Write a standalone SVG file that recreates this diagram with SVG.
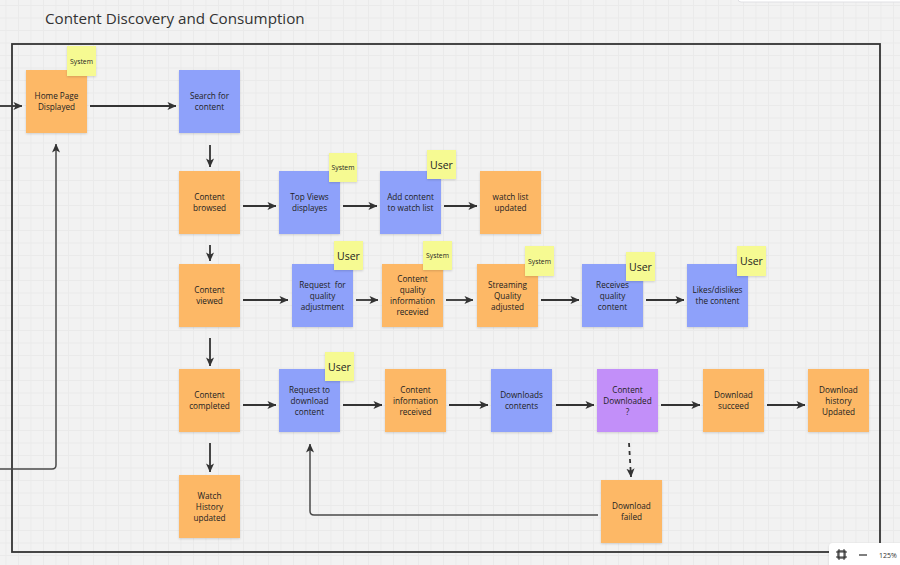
<svg xmlns="http://www.w3.org/2000/svg" width="900" height="565" viewBox="0 0 900 565">
<defs>
<pattern id="grid" width="12.5" height="12.5" patternUnits="userSpaceOnUse" x="5.5" y="5">
<path d="M0 0.5 H12.5 M0.5 0 V12.5" stroke="#eaeaea" stroke-width="1" fill="none"/>
</pattern>
<marker id="arr" viewBox="0 0 10 10" markerWidth="9" markerHeight="9" refX="9.5" refY="5" orient="auto" markerUnits="userSpaceOnUse">
<path d="M0,0.5 L10,5 L0,9.5 L2.5,5 Z" fill="#333"/>
</marker>
<filter id="sh" x="-10%" y="-10%" width="120%" height="130%">
<feDropShadow dx="0" dy="1" stdDeviation="0.8" flood-color="#000" flood-opacity="0.15"/>
</filter>
</defs>
<style>
.o{fill:#fdb866;filter:url(#sh)}
.b{fill:#8ea1fa;filter:url(#sh)}
.p{fill:#c28ff9;filter:url(#sh)}
.y{fill:#f6fa92;filter:url(#sh)}
text{font-family:"Open Sans","Noto Sans","Liberation Sans",sans-serif;fill:#222;text-anchor:middle;dominant-baseline:central}
.t{font-size:8.2px;transform:translate(0px,-1px)}
.s{font-size:6.8px}
.u{font-size:10.5px}
.c{fill:none;stroke:#333;stroke-width:1.8;marker-end:url(#arr)}
.d{stroke-dasharray:4 4}
.l{stroke:#4a4a4a;stroke-width:1.5}
</style>
<rect width="900" height="565" fill="#f2f2f2"/>
<rect width="900" height="565" fill="url(#grid)"/>
<text x="45" y="18" style="font-size:15.2px;text-anchor:start;fill:#333">Content Discovery and Consumption</text>
<rect id="frame" x="12" y="44" width="868" height="508" fill="none" stroke="#333" stroke-width="1.8"/>

<g id="connectors">
<path class="c" d="M0,106 H22"/>
<path class="c" d="M90,106 H176"/>
<path class="c" d="M210,145 V167"/>
<path class="c" d="M243,206 H276"/>
<path class="c" d="M343,206 H377"/>
<path class="c" d="M444,206 H477"/>
<path class="c" d="M210,245 V261"/>
<path class="c" d="M243,300 H288"/>
<path class="c" d="M356,300 H378"/>
<path class="c" d="M446,300 H473"/>
<path class="c" d="M541,300 H579"/>
<path class="c" d="M646,300 H684"/>
<path class="c" d="M210,338 V366"/>
<path class="c" d="M243,405 H276"/>
<path class="c" d="M343,405 H382"/>
<path class="c" d="M449,405 H488"/>
<path class="c" d="M556,405 H594"/>
<path class="c" d="M661,405 H700"/>
<path class="c" d="M767,405 H805"/>
<path class="c" d="M210,443 V472"/>
<path class="c d" d="M629,443 L631,477"/>
<path class="c l" d="M598,515 H314 Q310,515 310,511 V444"/>
<path class="c l" d="M0,469 H52 Q56,469 56,465 V144"/>
</g>

<g id="home"><rect class="o" x="26" y="70" width="61" height="63"/><text class="t" x="56.5"><tspan x="56.5" y="96">Home Page</tspan><tspan x="56.5" y="107">Displayed</tspan></text></g>
<g id="home-tag"><rect class="y" x="67" y="46" width="29" height="30"/><text class="s" x="81.5" y="61">System</text></g>
<g id="search"><rect class="b" x="179" y="70" width="61" height="63"/><text class="t"><tspan x="209.5" y="96">Search for</tspan><tspan x="209.5" y="107">content</tspan></text></g>

<g id="browsed"><rect class="o" x="179" y="171" width="61" height="63"/><text class="t"><tspan x="209.5" y="197">Content</tspan><tspan x="209.5" y="208">browsed</tspan></text></g>
<g id="topviews"><rect class="b" x="279" y="171" width="61" height="63"/><text class="t"><tspan x="309.5" y="197">Top Views</tspan><tspan x="309.5" y="208">displayes</tspan></text></g>
<g id="topviews-tag"><rect class="y" x="329" y="153" width="28" height="29"/><text class="s" x="343" y="167.5">System</text></g>
<g id="addwatch"><rect class="b" x="380" y="171" width="61" height="63"/><text class="t"><tspan x="410.5" y="197">Add content</tspan><tspan x="410.5" y="208">to watch list</tspan></text></g>
<g id="addwatch-tag"><rect class="y" x="427" y="150" width="29" height="29"/><text class="u" x="441.5" y="164.5">User</text></g>
<g id="watchlist"><rect class="o" x="480" y="171" width="61" height="63"/><text class="t"><tspan x="510.5" y="197">watch list</tspan><tspan x="510.5" y="208">updated</tspan></text></g>

<g id="viewed"><rect class="o" x="179" y="264" width="61" height="63"/><text class="t"><tspan x="209.5" y="290">Content</tspan><tspan x="209.5" y="301">viewed</tspan></text></g>
<g id="reqquality"><rect class="b" x="292" y="264" width="61" height="63"/><text class="t" style="white-space:pre"><tspan x="322.5" y="284.5">Request  for</tspan><tspan x="322.5" y="295.5">quality</tspan><tspan x="322.5" y="306.5">adjustment</tspan></text></g>
<g id="reqquality-tag"><rect class="y" x="334" y="241" width="29" height="29"/><text class="u" x="348.5" y="255.5">User</text></g>
<g id="cqi"><rect class="o" x="382" y="264" width="61" height="63"/><text class="t"><tspan x="412.5" y="279">Content</tspan><tspan x="412.5" y="290">quality</tspan><tspan x="412.5" y="301">information</tspan><tspan x="412.5" y="312">recevied</tspan></text></g>
<g id="cqi-tag"><rect class="y" x="423" y="241" width="29" height="29"/><text class="s" x="437.5" y="255.5">System</text></g>
<g id="streaming"><rect class="o" x="477" y="264" width="61" height="63"/><text class="t"><tspan x="507.5" y="284.5">Streaming</tspan><tspan x="507.5" y="295.5">Quality</tspan><tspan x="507.5" y="306.5">adjusted</tspan></text></g>
<g id="streaming-tag"><rect class="y" x="525" y="246" width="29" height="30"/><text class="s" x="539.5" y="261">System</text></g>
<g id="receives"><rect class="b" x="582" y="264" width="61" height="63"/><text class="t"><tspan x="612.5" y="284.5">Receives</tspan><tspan x="612.5" y="295.5">quality</tspan><tspan x="612.5" y="306.5">content</tspan></text></g>
<g id="receives-tag"><rect class="y" x="626" y="252" width="29" height="29"/><text class="u" x="640.5" y="266.5">User</text></g>
<g id="likes"><rect class="b" x="687" y="264" width="61" height="63"/><text class="t"><tspan x="717.5" y="290">Likes/dislikes</tspan><tspan x="717.5" y="301">the content</tspan></text></g>
<g id="likes-tag"><rect class="y" x="737" y="246" width="29" height="30"/><text class="u" x="751.5" y="261">User</text></g>

<g id="completed"><rect class="o" x="179" y="369" width="61" height="63"/><text class="t"><tspan x="209.5" y="395">Content</tspan><tspan x="209.5" y="406">completed</tspan></text></g>
<g id="reqdownload"><rect class="b" x="279" y="369" width="61" height="63"/><text class="t"><tspan x="309.5" y="389.5">Request to</tspan><tspan x="309.5" y="400.5">download</tspan><tspan x="309.5" y="411.5">content</tspan></text></g>
<g id="reqdownload-tag"><rect class="y" x="325" y="352" width="29" height="29"/><text class="u" x="339.5" y="366.5">User</text></g>
<g id="cinfo"><rect class="o" x="385" y="369" width="61" height="63"/><text class="t"><tspan x="415.5" y="389.5">Content</tspan><tspan x="415.5" y="400.5">information</tspan><tspan x="415.5" y="411.5">received</tspan></text></g>
<g id="downloads"><rect class="b" x="491" y="369" width="61" height="63"/><text class="t"><tspan x="521.5" y="395">Downloads</tspan><tspan x="521.5" y="406">contents</tspan></text></g>
<g id="downloaded"><rect class="p" x="597" y="369" width="61" height="63"/><text class="t"><tspan x="627.5" y="389.5">Content</tspan><tspan x="627.5" y="400.5">Downloaded</tspan><tspan x="627.5" y="411.5">?</tspan></text></g>
<g id="succeed"><rect class="o" x="703" y="369" width="61" height="63"/><text class="t"><tspan x="733.5" y="395">Download</tspan><tspan x="733.5" y="406">succeed</tspan></text></g>
<g id="history"><rect class="o" x="808" y="369" width="61" height="63"/><text class="t"><tspan x="838.5" y="389.5">Download</tspan><tspan x="838.5" y="400.5">history</tspan><tspan x="838.5" y="411.5">Updated</tspan></text></g>
<g id="watchhistory"><rect class="o" x="179" y="475" width="61" height="63"/><text class="t"><tspan x="209.5" y="495.5">Watch</tspan><tspan x="209.5" y="506.5">History</tspan><tspan x="209.5" y="517.5">updated</tspan></text></g>
<g id="failed"><rect class="o" x="601" y="480" width="61" height="63"/><text class="t"><tspan x="631.5" y="506">Download</tspan><tspan x="631.5" y="517">failed</tspan></text></g>

<g id="ui-top"><rect x="738" y="-6" width="170" height="8" rx="3" fill="#fff" stroke="#e0e0e4" stroke-width="1"/></g>
<g id="ui-zoom">
<rect x="829" y="543" width="75" height="26" rx="4" fill="#fff" filter="url(#sh)"/>
<rect x="838" y="551" width="7" height="7" fill="none" stroke="#333" stroke-width="1.2"/>
<path d="M836,552 H847 M836,557 H847 M839,549 V560 M844,549 V560" stroke="#333" stroke-width="1"/>
<path d="M859,555 H867" stroke="#555" stroke-width="1.5"/>
<text x="888" y="555" style="font-size:7px;fill:#333">125%</text>
</g>
</svg>
